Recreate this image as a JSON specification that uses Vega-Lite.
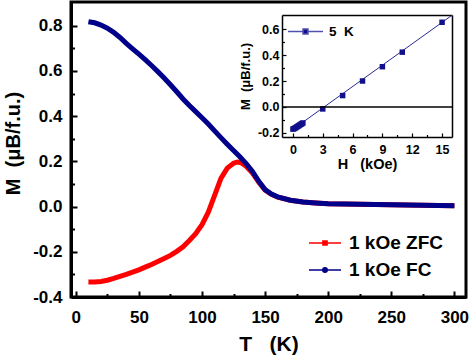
{
  "$schema": "https://vega.github.io/schema/vega-lite/v6.json",
  "width": 395,
  "height": 295,
  "autosize": {"type": "none"},
  "padding": {"left": 71, "top": 2, "right": 8, "bottom": 58},
  "config": {
    "view": {"stroke": "black", "strokeWidth": 3},
    "font": "Liberation Sans",
    "axis": {"labelFont": "Liberation Sans", "labelFontWeight": "bold", "titleFont": "Liberation Sans", "titleFontWeight": "bold", "labelColor": "black", "titleColor": "black", "domainColor": "black", "tickColor": "black", "grid": false},
    "legend": {"labelFont": "Liberation Sans", "labelFontWeight": "bold", "labelColor": "black"}
  },
  "datasets": {
    "mt": [
      {"T": 10, "M": -0.334, "series": "1 kOe ZFC"}, {"T": 15, "M": -0.334, "series": "1 kOe ZFC"}, {"T": 20, "M": -0.331, "series": "1 kOe ZFC"}, {"T": 25, "M": -0.326, "series": "1 kOe ZFC"}, {"T": 30, "M": -0.318, "series": "1 kOe ZFC"}, {"T": 35, "M": -0.309, "series": "1 kOe ZFC"}, {"T": 40, "M": -0.300, "series": "1 kOe ZFC"}, {"T": 45, "M": -0.290, "series": "1 kOe ZFC"}, {"T": 50, "M": -0.280, "series": "1 kOe ZFC"}, {"T": 55, "M": -0.268, "series": "1 kOe ZFC"}, {"T": 60, "M": -0.256, "series": "1 kOe ZFC"}, {"T": 65, "M": -0.243, "series": "1 kOe ZFC"}, {"T": 70, "M": -0.230, "series": "1 kOe ZFC"}, {"T": 75, "M": -0.216, "series": "1 kOe ZFC"}, {"T": 80, "M": -0.198, "series": "1 kOe ZFC"}, {"T": 85, "M": -0.178, "series": "1 kOe ZFC"}, {"T": 90, "M": -0.150, "series": "1 kOe ZFC"}, {"T": 95, "M": -0.120, "series": "1 kOe ZFC"}, {"T": 100, "M": -0.080, "series": "1 kOe ZFC"}, {"T": 105, "M": -0.025, "series": "1 kOe ZFC"}, {"T": 110, "M": 0.050, "series": "1 kOe ZFC"}, {"T": 115, "M": 0.125, "series": "1 kOe ZFC"}, {"T": 120, "M": 0.170, "series": "1 kOe ZFC"}, {"T": 125, "M": 0.192, "series": "1 kOe ZFC"}, {"T": 128, "M": 0.197, "series": "1 kOe ZFC"}, {"T": 131, "M": 0.194, "series": "1 kOe ZFC"}, {"T": 135, "M": 0.178, "series": "1 kOe ZFC"}, {"T": 140, "M": 0.148, "series": "1 kOe ZFC"}, {"T": 145, "M": 0.108, "series": "1 kOe ZFC"}, {"T": 150, "M": 0.073, "series": "1 kOe ZFC"}, {"T": 155, "M": 0.054, "series": "1 kOe ZFC"}, {"T": 160, "M": 0.042, "series": "1 kOe ZFC"}, {"T": 170, "M": 0.028, "series": "1 kOe ZFC"}, {"T": 180, "M": 0.020, "series": "1 kOe ZFC"}, {"T": 190, "M": 0.016, "series": "1 kOe ZFC"}, {"T": 200, "M": 0.013, "series": "1 kOe ZFC"}, {"T": 225, "M": 0.010, "series": "1 kOe ZFC"}, {"T": 250, "M": 0.008, "series": "1 kOe ZFC"}, {"T": 275, "M": 0.006, "series": "1 kOe ZFC"}, {"T": 300, "M": 0.004, "series": "1 kOe ZFC"},
      {"T": 10, "M": 0.818, "series": "1 kOe FC"}, {"T": 15, "M": 0.813, "series": "1 kOe FC"}, {"T": 20, "M": 0.803, "series": "1 kOe FC"}, {"T": 25, "M": 0.789, "series": "1 kOe FC"}, {"T": 30, "M": 0.771, "series": "1 kOe FC"}, {"T": 35, "M": 0.748, "series": "1 kOe FC"}, {"T": 40, "M": 0.722, "series": "1 kOe FC"}, {"T": 45, "M": 0.698, "series": "1 kOe FC"}, {"T": 50, "M": 0.674, "series": "1 kOe FC"}, {"T": 55, "M": 0.650, "series": "1 kOe FC"}, {"T": 60, "M": 0.624, "series": "1 kOe FC"}, {"T": 65, "M": 0.597, "series": "1 kOe FC"}, {"T": 70, "M": 0.569, "series": "1 kOe FC"}, {"T": 75, "M": 0.539, "series": "1 kOe FC"}, {"T": 80, "M": 0.508, "series": "1 kOe FC"}, {"T": 85, "M": 0.476, "series": "1 kOe FC"}, {"T": 90, "M": 0.447, "series": "1 kOe FC"}, {"T": 95, "M": 0.420, "series": "1 kOe FC"}, {"T": 100, "M": 0.393, "series": "1 kOe FC"}, {"T": 105, "M": 0.365, "series": "1 kOe FC"}, {"T": 110, "M": 0.335, "series": "1 kOe FC"}, {"T": 115, "M": 0.305, "series": "1 kOe FC"}, {"T": 120, "M": 0.276, "series": "1 kOe FC"}, {"T": 125, "M": 0.248, "series": "1 kOe FC"}, {"T": 130, "M": 0.220, "series": "1 kOe FC"}, {"T": 135, "M": 0.190, "series": "1 kOe FC"}, {"T": 140, "M": 0.155, "series": "1 kOe FC"}, {"T": 145, "M": 0.112, "series": "1 kOe FC"}, {"T": 150, "M": 0.075, "series": "1 kOe FC"}, {"T": 155, "M": 0.055, "series": "1 kOe FC"}, {"T": 160, "M": 0.043, "series": "1 kOe FC"}, {"T": 170, "M": 0.028, "series": "1 kOe FC"}, {"T": 180, "M": 0.020, "series": "1 kOe FC"}, {"T": 190, "M": 0.016, "series": "1 kOe FC"}, {"T": 200, "M": 0.013, "series": "1 kOe FC"}, {"T": 225, "M": 0.010, "series": "1 kOe FC"}, {"T": 250, "M": 0.008, "series": "1 kOe FC"}, {"T": 275, "M": 0.006, "series": "1 kOe FC"}, {"T": 300, "M": 0.004, "series": "1 kOe FC"}
    ],
    "mh": [
      {"H": 0, "M": -0.170}, {"H": 0.1, "M": -0.167}, {"H": 0.2, "M": -0.163}, {"H": 0.3, "M": -0.158}, {"H": 0.4, "M": -0.153}, {"H": 0.5, "M": -0.148}, {"H": 0.6, "M": -0.143}, {"H": 0.7, "M": -0.138}, {"H": 0.8, "M": -0.133}, {"H": 0.9, "M": -0.128}, {"H": 1.0, "M": -0.123}, {"H": 3, "M": -0.015}, {"H": 5, "M": 0.088}, {"H": 7, "M": 0.200}, {"H": 9, "M": 0.310}, {"H": 11, "M": 0.422}, {"H": 15, "M": 0.652}
    ],
    "fit": [
      {"H": 0, "M": -0.172}, {"H": 16, "M": 0.706}
    ]
  },
  "layer": [
    {
      "data": {"name": "mt"},
      "layer": [
        {
          "transform": [{"filter": "datum.series === '1 kOe ZFC'"}],
          "mark": {"type": "line", "strokeWidth": 5, "color": "#ff0000"},
          "encoding": {
            "x": {"field": "T", "type": "quantitative", "scale": {"domain": [-3.8, 309.2], "nice": false, "zero": false},
              "axis": {"orient": "bottom", "title": "T\u00a0\u00a0\u00a0(K)", "titleFontSize": 21, "titlePadding": 8, "values": [0, 50, 100, 150, 200, 250, 300], "labelFontSize": 17, "labelPadding": 12, "ticks": false, "domainWidth": 3}},
            "y": {"field": "M", "type": "quantitative", "scale": {"domain": [-0.4, 0.905], "nice": false, "zero": false},
              "axis": {"orient": "left", "title": "M\u00a0\u00a0(\u03bcB/f.u.)", "titleFontSize": 20, "titlePadding": 9, "titleY": 141, "values": [-0.4, -0.2, 0, 0.2, 0.4, 0.6, 0.8], "labelExpr": "replace(format(datum.value, '.1f'), '\u2212', '-')", "labelFontSize": 17, "labelPadding": 9, "ticks": false, "domainWidth": 3}}
          }
        },
        {
          "transform": [{"filter": "datum.series === '1 kOe FC'"}],
          "mark": {"type": "line", "strokeWidth": 5, "color": "#00008b"},
          "encoding": {
            "x": {"field": "T", "type": "quantitative",
              "axis": {"orient": "bottom", "offset": -6, "tickSize": 6, "tickWidth": 2, "values": [0, 50, 100, 150, 200, 250, 300], "labels": false, "domain": false, "title": null}},
            "y": {"field": "M", "type": "quantitative",
              "axis": {"orient": "left", "offset": -6, "tickSize": 6, "tickWidth": 2, "values": [-0.4, -0.2, 0, 0.2, 0.4, 0.6, 0.8], "labels": false, "domain": false, "title": null}}
          }
        },
        {
          "transform": [{"filter": "false"}],
          "mark": {"type": "line", "strokeWidth": 1},
          "encoding": {
            "x": {"field": "T", "type": "quantitative",
              "axis": {"orient": "bottom", "offset": -3.5, "tickSize": 3.5, "tickWidth": 2, "values": [25, 75, 125, 175, 225, 275], "labels": false, "domain": false, "title": null}},
            "y": {"field": "M", "type": "quantitative",
              "axis": {"orient": "left", "offset": -3.5, "tickSize": 3.5, "tickWidth": 2, "values": [-0.3, -0.1, 0.1, 0.3, 0.5, 0.7], "labels": false, "domain": false, "title": null}},
            "color": {"field": "series", "type": "nominal", "scale": {"domain": ["1 kOe ZFC", "1 kOe FC"], "range": ["#ff0000", "#00008b"]},
              "legend": {"orient": "none", "legendX": 237, "legendY": 224, "title": null, "labelFontSize": 19, "labelColor": "black", "symbolSize": 1024, "labelOffset": 7, "rowPadding": -6,
                "encode": {"symbols": {"update": {
                  "shape": {"signal": "datum.value === '1 kOe ZFC' ? 'M-1,0H-0.13M0.13,0H1M-0.13,-0.13H0.13V0.13H-0.13Z' : 'M-1,0H-0.14M0.14,0H1M-0.14,0A0.14,0.14,0,1,0,0.14,0A0.14,0.14,0,1,0,-0.14,0Z'"},
                  "fill": {"signal": "datum.value === '1 kOe ZFC' ? '#ff0000' : '#00008b'"},
                  "opacity": {"value": 1}}}}}}
          }
        }
      ],
      "resolve": {"axis": {"x": "independent", "y": "independent"}}
    },
    {
      "layer": [
        {
          "data": {"name": "fit"},
          "mark": {"type": "line", "color": "#2a2a96", "strokeWidth": 1},
          "encoding": {
            "x": {"field": "H", "type": "quantitative", "scale": {"domain": [-1.1, 16], "range": [211, 381], "nice": false, "zero": false},
              "axis": {"orient": "bottom", "offset": -160, "title": "H\u00a0\u00a0\u00a0(kOe)", "titleFontSize": 14.5, "titlePadding": 2, "values": [0, 3, 6, 9, 12, 15], "labelFontSize": 12.5, "labelPadding": 6, "ticks": false, "domainWidth": 1.5}},
            "y": {"field": "M", "type": "quantitative", "scale": {"domain": [-0.231, 0.708], "range": [135, 13], "nice": false, "zero": false},
              "axis": {"orient": "left", "offset": -211, "title": "M\u00a0\u00a0(\u03bcB/f.u.)", "titleFontSize": 13, "titlePadding": 5, "values": [-0.2, 0, 0.2, 0.4, 0.6], "labelExpr": "replace(format(datum.value, '.1f'), '\u2212', '-')", "labelFontSize": 12.5, "labelPadding": 3, "ticks": false, "domainWidth": 1.5}}
          }
        },
        {
          "data": {"name": "mh"},
          "mark": {"type": "point", "shape": "square", "filled": true, "size": 30, "opacity": 1, "color": "#10108a"},
          "encoding": {
            "x": {"field": "H", "type": "quantitative",
              "axis": {"orient": "bottom", "offset": -164, "tickSize": 4, "tickWidth": 1.2, "values": [0, 3, 6, 9, 12, 15], "labels": false, "domain": false, "title": null}},
            "y": {"field": "M", "type": "quantitative",
              "axis": {"orient": "left", "offset": -215, "tickSize": 4, "tickWidth": 1.2, "values": [-0.2, 0, 0.2, 0.4, 0.6], "labels": false, "domain": false, "title": null}}
          }
        },
        {
          "data": {"values": [{}]},
          "mark": {"type": "rule", "color": "black", "strokeWidth": 1.5},
          "encoding": {
            "x": {"datum": -1.1, "type": "quantitative", "axis": {"orient": "top", "offset": -13, "title": null, "labels": false, "ticks": false, "domainWidth": 1.5}},
            "x2": {"datum": 16},
            "y": {"datum": 0, "type": "quantitative", "axis": {"orient": "right", "offset": -14, "title": null, "labels": false, "ticks": false, "domainWidth": 1.5}}
          }
        },
        {
          "data": {"values": [{"series": "5\u00a0\u00a0K"}]},
          "transform": [{"filter": "false"}],
          "mark": {"type": "point", "filled": true, "strokeWidth": 1, "opacity": 1},
          "encoding": {
            "x": {"field": "H", "type": "quantitative",
              "axis": {"orient": "bottom", "offset": -162.5, "tickSize": 2.5, "tickWidth": 1.2, "values": [1.5, 4.5, 7.5, 10.5, 13.5], "labels": false, "domain": false, "title": null}},
            "y": {"field": "M", "type": "quantitative",
              "axis": {"orient": "left", "offset": -213.5, "tickSize": 2.5, "tickWidth": 1.2, "values": [-0.1, 0.1, 0.3, 0.5], "labels": false, "domain": false, "title": null}},
            "fill": {"field": "series", "type": "nominal", "scale": {"domain": ["5\u00a0\u00a0K"], "range": ["#10108a"]},
              "legend": {"orient": "none", "legendX": 216, "legendY": 11, "title": null, "labelFontSize": 13.5, "labelColor": "black", "symbolSize": 1225, "labelOffset": 5}},
            "stroke": {"field": "series", "type": "nominal", "scale": {"domain": ["5\u00a0\u00a0K"], "range": ["#5050b0"]},
              "legend": {"orient": "none", "legendX": 216, "legendY": 11, "title": null, "labelFontSize": 13.5, "labelColor": "black", "symbolSize": 1225, "labelOffset": 5}},
            "shape": {"field": "series", "type": "nominal", "scale": {"domain": ["5\u00a0\u00a0K"], "range": ["M-1,0H-0.14M0.14,0H1M-0.14,-0.14H0.14V0.14H-0.14Z"]},
              "legend": {"orient": "none", "legendX": 216, "legendY": 11, "title": null, "labelFontSize": 13.5, "labelColor": "black", "symbolSize": 1225, "labelOffset": 5}}
          }
        }
      ],
      "resolve": {"axis": {"x": "independent", "y": "independent"}}
    }
  ],
  "resolve": {
    "scale": {"x": "independent", "y": "independent", "color": "independent", "fill": "independent", "stroke": "independent", "shape": "independent"},
    "axis": {"x": "independent", "y": "independent"},
    "legend": {"color": "independent", "fill": "independent", "stroke": "independent", "shape": "independent"}
  }
}
